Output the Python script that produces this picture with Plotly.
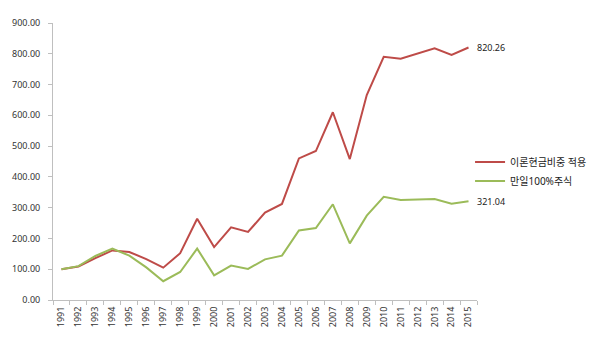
import plotly.graph_objects as go

years = [str(y) for y in range(1991, 2016)]
series_names = ["이론현금비중 적용", "만일100%주식"]
red_values = [100, 109, 136, 161, 156, 133, 105, 152, 264, 172, 236, 221, 284, 312,
              460, 484, 610, 458, 666, 790, 784, 801, 818, 796, 820.26]
green_values = [100, 110, 143, 167, 144, 106, 61, 91, 167, 80, 112, 101, 132, 144,
                226, 234, 311, 184, 274, 335, 325, 326, 328, 313, 321.04]
y_ticks = [0, 100, 200, 300, 400, 500, 600, 700, 800, 900]
colors = ["#BE4B48", "#9BBB59"]

FONT = "Noto Sans, Noto Sans CJK KR, sans-serif"

fig = go.Figure()
for name, vals, col in zip(series_names, [red_values, green_values], colors):
    fig.add_trace(go.Scatter(x=years, y=vals, name=name, mode="lines",
                             line=dict(color=col, width=2)))
    fig.add_annotation(x=len(years) - 1, y=vals[-1], text=f"{vals[-1]:.2f}",
                       xanchor="left", yanchor="middle", xshift=6,
                       showarrow=False, font=dict(size=9, color="#222", family=FONT))

fig.update_layout(
    width=595, height=339,
    margin=dict(l=53, r=118, t=23, b=39, autoexpand=False),
    paper_bgcolor="white", plot_bgcolor="white",
    font=dict(family=FONT, size=9, color="#333"),
    legend=dict(xref="container", yref="container", x=0.79, y=0.494,
                xanchor="left", yanchor="middle",
                font=dict(size=10, family=FONT, color="#222"), itemwidth=30,
                bgcolor="rgba(0,0,0,0)", tracegroupgap=0),
    xaxis=dict(type="category", range=[-0.5, len(years) - 0.5], tickangle=-90,
               showline=True, linecolor="#BFBFBF",
               linewidth=1, ticks="outside", ticklen=4, tickcolor="#BFBFBF",
               tickson="boundaries", showgrid=False, zeroline=False,
               ticklabelstandoff=2,
               tickfont=dict(size=9, family=FONT)),
    yaxis=dict(range=[0, 900], tickvals=y_ticks, tickformat=".2f", showline=True,
               linecolor="#BFBFBF", linewidth=1, ticks="outside", ticklen=4,
               tickcolor="#BFBFBF", showgrid=False, zeroline=False,
               ticklabelstandoff=6,
               tickfont=dict(size=9, family=FONT)),
)

fig.write_html("out.html")
